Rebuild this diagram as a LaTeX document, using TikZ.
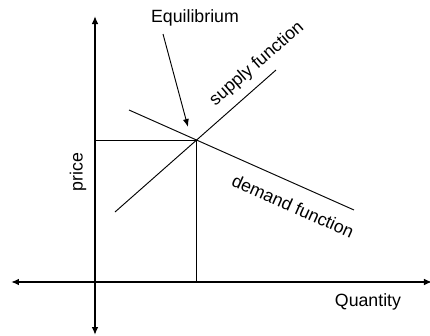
\documentclass[tikz,border=0pt]{standalone}
\usepackage{fontspec}
\setmainfont{Liberation Sans}
\usetikzlibrary{arrows.meta, positioning}

\begin{document}
\begin{tikzpicture}[x=0.75pt, y=-0.75pt,
  axis/.style={line width=1.4pt, {Latex[length=6pt,width=5pt]}-{Latex[length=6pt,width=5pt]}},
  curve/.style={line width=0.7pt},
  guide/.style={line width=0.6pt},
  lbl/.style={font=\fontsize{13.3}{15}\selectfont, inner sep=0pt},
  arr/.style={-{Latex[length=6pt,width=4.5pt]}, line width=0.7pt},
]
\useasboundingbox (0,0) rectangle (430,336);

% points
\coordinate (origin) at (95,282);
\coordinate (ytop) at (95,16);
\coordinate (ybot) at (95,335);
\coordinate (xleft) at (11,282);
\coordinate (xright) at (432,282);
\coordinate (eq) at (196,140);
\coordinate (peq) at (95,140);
\coordinate (qeq) at (196,282);
\coordinate (s1) at (115,212);
\coordinate (s2) at (276,70);
\coordinate (d1) at (129,110);
\coordinate (d2) at (354,210);
\coordinate (eqtip) at (188,127);

% axes
\draw[axis] (ybot) -- (ytop);
\draw[axis] (xleft) -- (xright);

% guides
\draw[guide] (peq) -- (eq) -- (qeq);

% curves
\draw[curve] (s1) -- (s2);
\draw[curve] (d1) -- (d2);

% labels
\node[lbl] (equil) at (195,18) {Equilibrium};
\node[lbl, rotate=41] (supply) at (257,64) {supply function};
\node[lbl, rotate=-24] (demand) at (293,206) {demand function};
\node[lbl, rotate=90] (price) at (78,172) {price};
\node[lbl] (quantity) at (368,302) {Quantity};

\draw[arr] (163,34) -- (eqtip);

\end{tikzpicture}
\end{document}
